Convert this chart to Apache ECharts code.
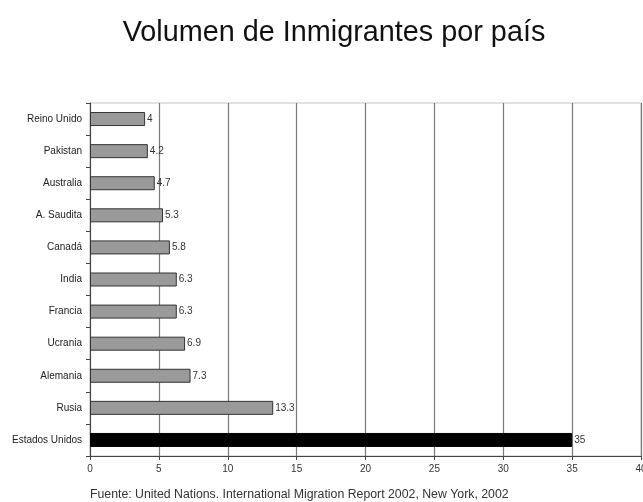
<!DOCTYPE html>
<html>
<head>
<meta charset="utf-8">
<script src="https://cdn.jsdelivr.net/npm/echarts@6/dist/echarts.min.js"></script>
<style>
  html, body { margin: 0; padding: 0; background: #fff; }
  #chart { width: 643px; height: 502px; }
</style>
</head>
<body>
<div id="chart"></div>
<script>
// Countries listed from bottom to top of the axis
const countries = ['Estados Unidos', 'Rusia', 'Alemania', 'Ucrania', 'Francia', 'India',
                   'Canadá', 'A. Saudita', 'Australia', 'Pakistan', 'Reino Unido'];
// Immigrant volume (millions)
const immigrants = [35, 13.3, 7.3, 6.9, 6.3, 6.3, 5.8, 5.3, 4.7, 4.2, 4];
const xTicks = [0, 5, 10, 15, 20, 25, 30, 35, 40];

const chart = echarts.init(document.getElementById('chart'));
chart.setOption({
  backgroundColor: '#fff',
  animation: false,
  title: [
    {
      text: 'Volumen de Inmigrantes por país',
      left: 329, top: 14, textAlign: 'center',
      textStyle: { fontFamily: 'Liberation Sans, Arial', fontSize: 28.8, fontWeight: 'normal', color: '#111' }
    },
    {
      text: 'Fuente: United Nations. International Migration Report 2002, New York, 2002',
      left: 85, top: 484,
      textStyle: { fontFamily: 'Liberation Sans, Arial', fontSize: 12.3, fontWeight: 'normal', color: '#333' }
    }
  ],
  grid: {
    left: 90, right: 2, top: 103, bottom: 46,
    containLabel: false, outerBoundsMode: 'none',
    show: true, borderColor: '#c4c4c4', borderWidth: 1
  },
  xAxis: {
    type: 'value', min: 0, max: 40, interval: 5,
    axisLine: { show: true, lineStyle: { color: '#444', width: 1 } },
    axisTick: { show: true, length: 4, lineStyle: { color: '#444' } },
    axisLabel: {
      color: '#333', fontSize: 10, fontFamily: 'Liberation Sans, Arial', margin: 8,
      formatter: v => xTicks.includes(v) ? String(v) : ''
    },
    splitLine: { show: true, lineStyle: { color: '#7a7a7a', width: 1.2 } }
  },
  yAxis: {
    type: 'category', data: countries,
    axisLine: { show: true, lineStyle: { color: '#444', width: 1 } },
    axisTick: { show: true, length: 4, lineStyle: { color: '#444' } },
    axisLabel: { color: '#222', fontSize: 10, fontFamily: 'Liberation Sans, Arial', margin: 8 },
    splitLine: { show: false }
  },
  series: [{
    type: 'bar',
    data: immigrants.map((v, i) => ({
      value: v,
      itemStyle: i === 0 ? { color: '#000', borderColor: '#000' } : { color: '#9a9a9a', borderColor: '#333' }
    })),
    barWidth: 14,
    itemStyle: { borderWidth: 1 },
    label: {
      show: true, position: 'right', distance: 2,
      color: '#333', fontSize: 10, fontFamily: 'Liberation Sans, Arial'
    }
  }]
});
</script>
</body>
</html>
